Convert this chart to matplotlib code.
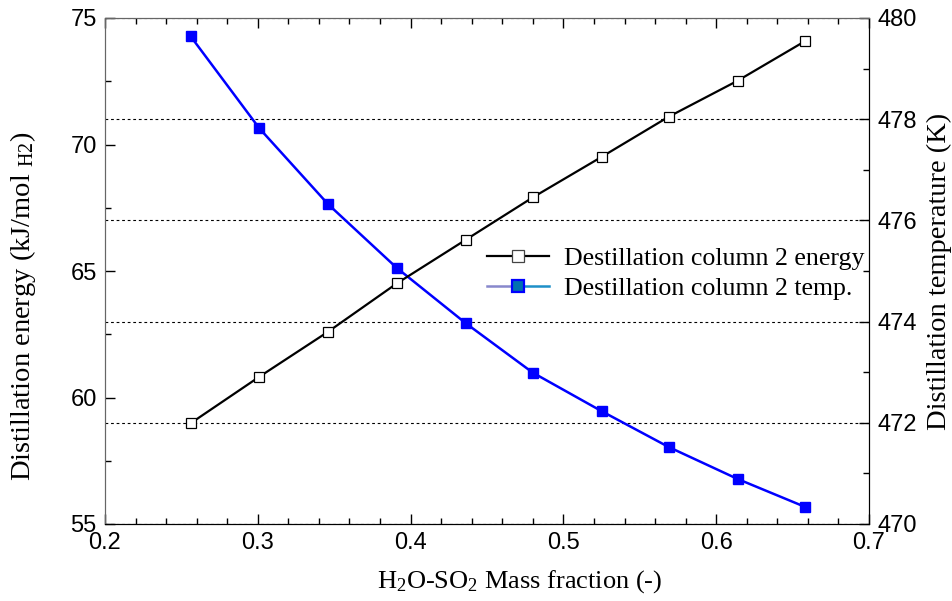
import matplotlib
matplotlib.use("Agg")
import matplotlib.pyplot as plt
from matplotlib.lines import Line2D
from matplotlib.legend_handler import HandlerBase
from matplotlib.ticker import MultipleLocator

mass_fraction = [0.256, 0.301, 0.346, 0.391, 0.436, 0.480, 0.525, 0.569, 0.614, 0.658]
energy = [58.98, 60.82, 62.60, 64.51, 66.23, 67.91, 69.51, 71.10, 72.52, 74.08]
temperature = [479.64, 477.82, 476.32, 475.06, 473.97, 472.99, 472.23, 471.52, 470.89, 470.34]
labels = ["Destillation column 2 energy", "Destillation column 2 temp."]
x_ticks = [0.2, 0.3, 0.4, 0.5, 0.6, 0.7]

plt.rcParams['mathtext.fontset'] = 'custom'
plt.rcParams['mathtext.rm'] = 'Liberation Serif'
plt.rcParams['mathtext.it'] = 'Liberation Serif:italic'

SERIF = 'Liberation Serif'
SANS = 'Liberation Sans'

fig = plt.figure(figsize=(9.52, 6.01), dpi=100)
ax = fig.add_axes([105/952, 1-524/601, (869-105)/952, (524-18)/601])
ax2 = ax.twinx()

ax.set_zorder(ax2.get_zorder() + 1)
ax.patch.set_visible(False)

ax.plot(mass_fraction, energy, color='black', lw=1.6, marker='s', ms=7.5,
        mfc='white', mec='black', mew=0.9, zorder=3)
ax2.plot(mass_fraction, temperature, color='#0000FF', lw=1.8, marker='s', ms=7,
         mfc='#0000FF', mec='#0000FF', zorder=3)

ax.set_xlim(0.2, 0.7)
ax.set_ylim(55, 75)
ax2.set_ylim(470, 480)

ax.xaxis.set_minor_locator(MultipleLocator(0.02))
ax.yaxis.set_major_locator(MultipleLocator(5))
ax.yaxis.set_minor_locator(MultipleLocator(2.5))
ax2.yaxis.set_major_locator(MultipleLocator(2))
ax2.yaxis.set_minor_locator(MultipleLocator(1))

ax2.yaxis.grid(True, which='major', linestyle=(0, (2.5, 2.5)), color='black', lw=0.8)

ax.tick_params(axis='x', which='both', direction='in', top=True, bottom=True)
ax.tick_params(axis='y', which='both', direction='in', left=True, right=False)
ax2.tick_params(axis='y', which='both', direction='in', right=True, left=False)
for a in (ax, ax2):
    a.tick_params(which='major', length=7, width=1, labelsize=17, pad=6)
    a.tick_params(which='minor', length=4, width=1)

ax.set_xticks(x_ticks)
ax.set_xticklabels([f"{v:g}" for v in x_ticks])
for lab in ax.get_xticklabels() + ax.get_yticklabels() + ax2.get_yticklabels():
    lab.set_fontfamily(SANS)

for side in ('left', 'top'):
    ax.spines[side].set_color('#666666')
    ax2.spines[side].set_color('#666666')

ax.set_xlabel("H$_2$O-SO$_2$ Mass fraction (-)", fontsize=19, family=SERIF)
ax.xaxis.set_label_coords(0.543, -0.088)
ax.set_ylabel("Distillation energy (kJ/mol $_{\\mathrm{H2}}$)", fontsize=20.5, family=SERIF)
ax.yaxis.set_label_coords(-0.088, 0.431)
ax2.set_ylabel("Distillation temperature (K)", fontsize=20.5, family=SERIF)
ax2.yaxis.set_label_coords((927-105)/764, 0.5)


class TwoToneHandler(HandlerBase):
    def create_artists(self, legend, orig_handle, xdescent, ydescent, width, height, fontsize, trans):
        y = height / 2 - ydescent
        x0 = -xdescent
        mid = x0 + width / 2
        l1 = Line2D([x0, mid], [y, y], color='#8888CC', lw=1.8)
        l2 = Line2D([mid, x0 + width], [y, y], color='#1E90C8', lw=1.8)
        m = Line2D([mid], [y], marker='s', ms=8, mfc='#0070B0', mec='#0000FF', mew=1.6, ls='none')
        for a in (l1, l2, m):
            a.set_transform(trans)
        return [l1, l2, m]


h1 = Line2D([], [], color='black', lw=1.6, marker='s', ms=8, mfc='white', mec='#444444', mew=0.9)
h2 = Line2D([], [])
leg = ax.legend([h1, h2], labels, loc='center left', bbox_to_anchor=(0.493, 0.545),
                bbox_transform=fig.transFigure, frameon=False, prop={'family': SERIF, 'size': 18.6},
                handlelength=2.4, handletextpad=0.55, labelspacing=0.3, borderpad=0.2,
                handler_map={h2: TwoToneHandler()})

fig.savefig("out.png", dpi=100)
